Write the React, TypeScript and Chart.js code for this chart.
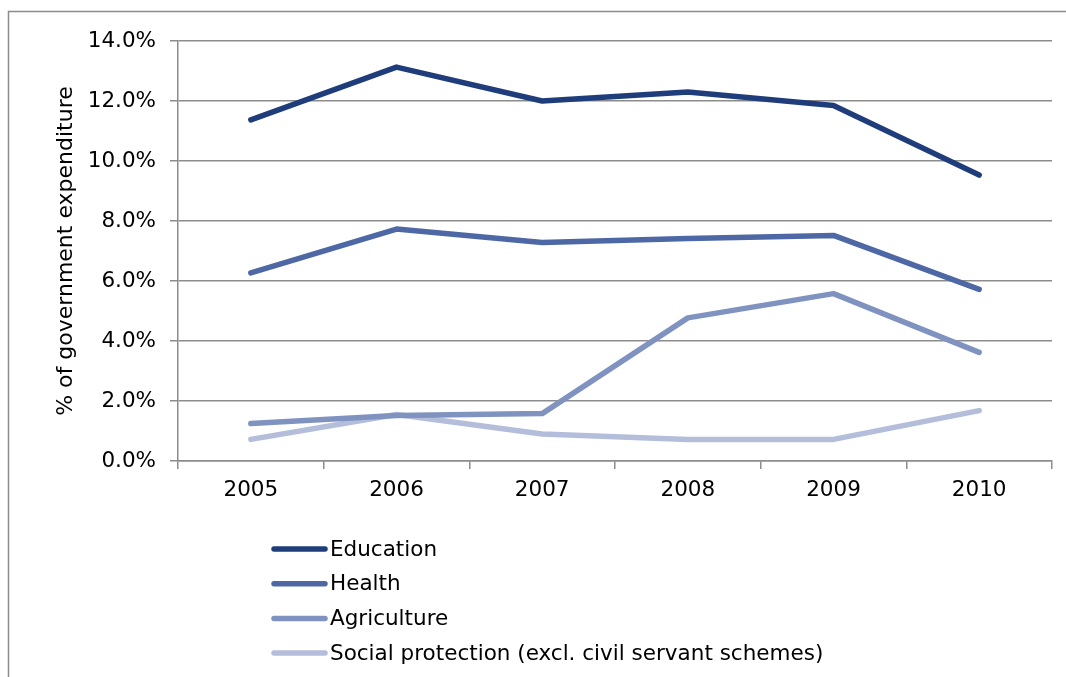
import React, { useEffect, useRef } from "react";
import { Chart, registerables } from "chart.js";

Chart.register(...registerables);

const years = ["2005", "2006", "2007", "2008", "2009", "2010"];
const education = [11.37, 13.13, 12.0, 12.3, 11.85, 9.53];
const health = [6.27, 7.73, 7.28, 7.42, 7.52, 5.72];
const agriculture = [1.25, 1.52, 1.58, 4.77, 5.58, 3.62];
const socialProtection = [0.72, 1.55, 0.9, 0.72, 0.72, 1.68];
const seriesNames = [
  "Education",
  "Health",
  "Agriculture",
  "Social protection (excl. civil servant schemes)",
];
const yTicks = [0, 2, 4, 6, 8, 10, 12, 14];

const colors = ["#1f3d7a", "#4e68a5", "#8093c0", "#b4bedb"];
const FONT = "'DejaVu Sans', Verdana, sans-serif";
const GRID = "#8c8c8c";
const FS = 21.5;

const framePlugin = {
  id: "frame",
  afterDraw(chart: any) {
    const ctx = chart.ctx;
    ctx.save();
    ctx.strokeStyle = GRID;
    ctx.lineWidth = 1.5;
    ctx.beginPath();
    ctx.moveTo(1066, 11.5);
    ctx.lineTo(8.5, 11.5);
    ctx.lineTo(8.5, 677);
    ctx.stroke();

    // legend
    const ds = chart.data.datasets;
    ctx.font = `${FS}px ${FONT}`;
    ctx.textBaseline = "middle";
    ctx.textAlign = "left";
    ds.forEach((d: any, i: number) => {
      const y = 549 + i * 34.7;
      ctx.strokeStyle = d.borderColor;
      ctx.lineWidth = 5.5;
      ctx.lineCap = "round";
      ctx.beginPath();
      ctx.moveTo(274, y);
      ctx.lineTo(325, y);
      ctx.stroke();
      ctx.fillStyle = "#000";
      ctx.fillText(d.label, 330, y + 1);
    });
    ctx.restore();
  },
};

export default function App() {
  const ref = useRef<HTMLCanvasElement | null>(null);
  useEffect(() => {
    document.body.style.margin = "0";
    const seriesData = [education, health, agriculture, socialProtection];
    const chart = new Chart(ref.current!, {
      type: "line",
      data: {
        labels: years,
        datasets: seriesData.map((d, i) => ({
          label: seriesNames[i],
          data: d,
          borderColor: colors[i],
          backgroundColor: colors[i],
          borderWidth: 5.5,
          pointRadius: 0,
          borderCapStyle: "round",
          borderJoinStyle: "round",
          tension: 0,
        })),
      },
      options: {
        animation: false,
        responsive: false,
        maintainAspectRatio: false,
        layout: { padding: { left: 0, top: 41, right: 14, bottom: 0 } },
        plugins: {
          legend: { display: false },
          tooltip: { enabled: false },
        },
        scales: {
          x: {
            type: "category",
            offset: true,
            grid: {
              display: true,
              drawOnChartArea: false,
              drawTicks: true,
              tickLength: 8,
              color: GRID,
              lineWidth: 1.5,
              offset: true,
            },
            border: { display: true, color: GRID, width: 1.5 },
            ticks: {
              color: "#000",
              font: { family: FONT, size: FS },
              padding: 9,
              maxRotation: 0,
            },
            afterFit(scale: any) {
              scale.height = 216;
            },
          },
          y: {
            min: 0,
            max: 14,
            afterBuildTicks(scale: any) {
              scale.ticks = yTicks.map((v) => ({ value: v }));
            },
            grid: {
              color: GRID,
              lineWidth: 1.5,
              drawTicks: true,
              tickLength: 8,
            },
            border: { display: true, color: GRID, width: 1.5 },
            ticks: {
              color: "#000",
              font: { family: FONT, size: FS },
              padding: 14,
              callback: (v: any) => Number(v).toFixed(1) + "%",
            },
            title: {
              display: true,
              text: "% of government expenditure",
              color: "#000",
              font: { family: FONT, size: 22 },
              padding: { top: 53, bottom: 0 },
            },
            afterFit(scale: any) {
              scale.width = 178;
            },
          },
        },
      },
      plugins: [framePlugin],
    });
    return () => chart.destroy();
  }, []);
  return (
    <div style={{ position: "fixed", left: 0, top: 0, width: 1066, height: 677 }}>
      <canvas ref={ref} width={1066} height={677} style={{ width: 1066, height: 677 }} />
    </div>
  );
}
